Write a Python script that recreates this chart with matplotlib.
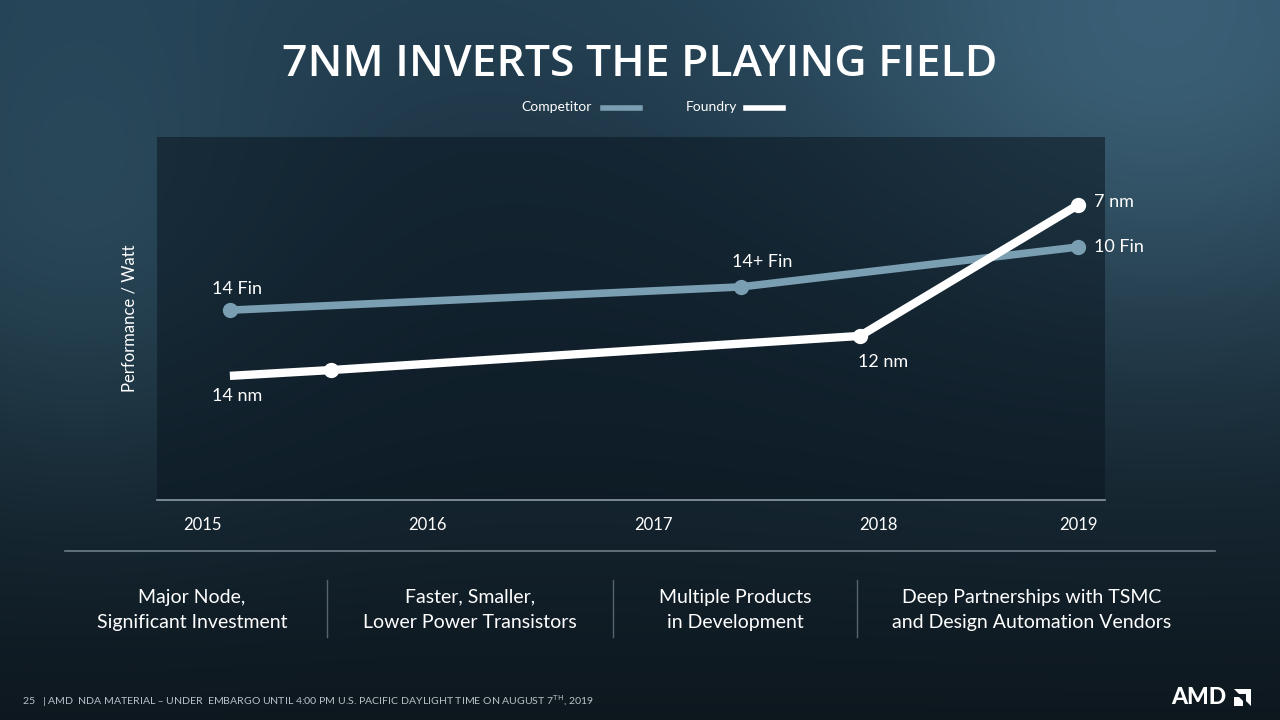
import numpy as np
import matplotlib.pyplot as plt
from matplotlib.lines import Line2D
from matplotlib.patches import Polygon

# data (performance / watt, arbitrary units)
years = [2015, 2016, 2017, 2018, 2019]
year_ticks = [2015, 2016, 2017, 2018, 2018.89]

comp_x = [2015.12, 2017.39, 2018.89]
comp_y = [52.3, 58.7, 69.7]
comp_labels = ["14 Fin", "14+ Fin", "10 Fin"]

found_x = [2015.12, 2015.57, 2017.92, 2018.89]
found_y = [34.2, 35.8, 45.2, 81.3]
found_labels = ["14 nm", None, "12 nm", "7 nm"]

bullets = ["Major Node,\nSignificant Investment",
           "Faster, Smaller,\nLower Power Transistors",
           "Multiple Products\nin Development",
           "Deep Partnerships with TSMC\nand Design Automation Vendors"]

comp_color = '#7b9fb2'
body_font = ['Lato', 'DejaVu Sans']

fig = plt.figure(figsize=(12.8, 7.2), dpi=100)

# background
bg = fig.add_axes([0, 0, 1, 1])
h, w = 180, 320
yy, xx = np.mgrid[0:h, 0:w]
t = yy / h
top = np.array([0x22, 0x3e, 0x50]) / 255
bot = np.array([0x0d, 0x17, 0x1e]) / 255
img = top[None, None, :] * (1 - t[..., None]) + bot[None, None, :] * t[..., None]
glow = np.exp(-(((xx - 290) / 90.0) ** 2 + ((yy - 20) / 70.0) ** 2))
glow2 = np.exp(-(((xx - 20) / 60.0) ** 2 + ((yy - 60) / 60.0) ** 2))
img += glow[..., None] * np.array([0.10, 0.14, 0.16])
img += glow2[..., None] * np.array([0.05, 0.08, 0.09])
bg.imshow(np.clip(img, 0, 1), aspect='auto', extent=[0, 1, 0, 1], interpolation='bilinear')
bg.set_xlim(0, 1)
bg.set_ylim(0, 1)
bg.axis('off')

# chart
ax = fig.add_axes([157 / 1280, 1 - 500 / 720, (1105 - 157) / 1280, (500 - 137) / 720])
ax.set_facecolor('#0a1620')
ax.patch.set_alpha(0.55)
ax.plot(comp_x, comp_y, color=comp_color, lw=5.5, marker='o', ms=10,
        solid_capstyle='butt', zorder=3)
ax.plot(found_x, found_y, color='white', lw=6, marker='o', ms=10,
        markevery=[1, 2, 3], solid_capstyle='butt', zorder=4)

ax.text(comp_x[0] - 0.08, comp_y[0] + 4.5, comp_labels[0], color='white', fontsize=13, family=body_font)
ax.text(comp_x[1] - 0.04, comp_y[1] + 5.5, comp_labels[1], color='white', fontsize=13, family=body_font)
ax.text(comp_x[2] + 0.07, comp_y[2], comp_labels[2], color='white', fontsize=13, family=body_font, va='center')
ax.text(found_x[0] - 0.08, found_y[0] - 5.5, found_labels[0], color='white', fontsize=13, family=body_font, va='center')
ax.text(found_x[2] - 0.01, found_y[2] - 7.3, found_labels[2], color='white', fontsize=13, family=body_font, va='center')
ax.text(found_x[3] + 0.07, found_y[3] + 0.8, found_labels[3], color='white', fontsize=13, family=body_font, va='center')

ax.set_xlim(2014.796, 2019.009)
ax.set_ylim(0, 100)
ax.set_xticks(year_ticks)
ax.set_xticklabels([str(y) for y in years], color='white', fontsize=12, family=body_font)
ax.tick_params(axis='x', length=0, pad=12)
ax.set_yticks([])
for s in ['top', 'right', 'left']:
    ax.spines[s].set_visible(False)
ax.spines['bottom'].set_color('#8c9ba5')
ax.spines['bottom'].set_linewidth(1.2)
ax.set_ylabel('Performance / Watt', color='white', fontsize=12, family=body_font, labelpad=14)

# title and legend
fig.text(0.5, 1 - 65 / 720, '7NM INVERTS THE PLAYING FIELD', color='white', fontsize=32,
         fontweight='semibold', family=['Open Sans', 'DejaVu Sans'], ha='center', va='center')
fig.text(592 / 1280, 1 - 107 / 720, 'Competitor', color='white', fontsize=10,
         family=body_font, ha='right', va='center')
fig.add_artist(Line2D([603 / 1280, 640 / 1280], [1 - 108 / 720] * 2, color=comp_color, lw=4))
fig.text(737 / 1280, 1 - 107 / 720, 'Foundry', color='white', fontsize=10,
         family=body_font, ha='right', va='center')
fig.add_artist(Line2D([746 / 1280, 783 / 1280], [1 - 108 / 720] * 2, color='white', lw=4))

# bottom strip
fig.add_artist(Line2D([65 / 1280, 1215 / 1280], [1 - 551 / 720] * 2, color='#6d7e89', lw=1.2))
for xc, txt in zip([192, 470, 735, 1032], bullets):
    fig.text(xc / 1280, 1 - 610 / 720, txt, color='white', fontsize=14, family=body_font,
             ha='center', va='center', linespacing=1.6)
for xs in [327, 613, 857]:
    fig.add_artist(Line2D([xs / 1280] * 2, [1 - 580 / 720, 1 - 637 / 720], color='#55646e', lw=1))

# footer
fig.text(22 / 1280, 1 - 701 / 720,
         '25   | AMD  NDA MATERIAL \u2013 UNDER  EMBARGO UNTIL 4:00 PM U.S. PACIFIC DAYLIGHT TIME ON AUGUST 7$^{\\mathrm{TH}}$, 2019',
         color='#b8c2c8', fontsize=7.55, family=body_font, va='center')
fig.text(1171 / 1280, 1 - 697 / 720, 'AMD', color='white', fontsize=16.5, fontweight='black',
         family=['Lato', 'DejaVu Sans'], va='center')
W, H = 1280, 720
arrow_outer = [(1234, 689), (1251, 689), (1251, 706), (1246, 701), (1246, 694), (1239, 694)]
arrow_inner = [(1234, 697), (1239, 697), (1243, 701), (1243, 706), (1234, 706)]
for pts in [arrow_outer, arrow_inner]:
    fig.add_artist(Polygon([(x / W, 1 - y / H) for x, y in pts], closed=True,
                           facecolor='white', edgecolor='none', transform=fig.transFigure))

fig.savefig('out.png', dpi=100)
